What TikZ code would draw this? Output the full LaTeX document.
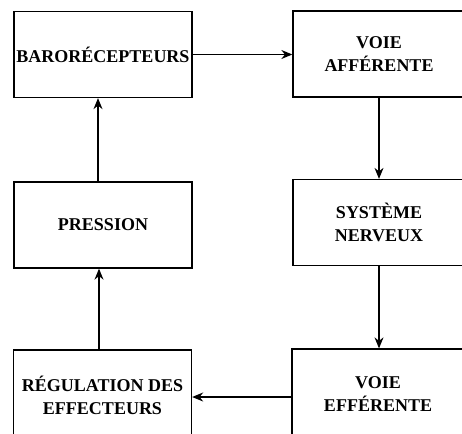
\documentclass[tikz,border=0pt]{standalone}
\usepackage{fontspec}
\setmainfont{Liberation Serif}
\usetikzlibrary{arrows.meta}
\tikzset{
  bloc/.style={draw, line width=1.3pt, minimum width=178pt, minimum height=86pt,
    align=center, inner sep=0pt, font=\bfseries\fontsize{18}{23}\selectfont},
  fleche/.style={line width=1.3pt, -{Stealth[length=11pt,width=9pt]}}
}
\begin{document}
\begin{tikzpicture}[x=1pt,y=-1pt]
% Cadre
\clip (0,0) rectangle (462,433);
\fill[white] (0,0) rectangle (462,433);

% Boites
\node[bloc] (baro) at (103,54.5) {BAROR\'ECEPTEURS};
\node[bloc, minimum width=172pt] (vaff) at (379,54) {VOIE\\AFF\'ERENTE};
\node[bloc, minimum width=172pt] (snc) at (379,222.5) {SYST\`EME\\NERVEUX};
\node[bloc] (pres) at (103,225) {PRESSION};
\node[bloc, minimum width=172pt, minimum height=90pt] (veff) at (378,394) {VOIE\\EFF\'ERENTE};
\node[bloc, minimum height=90pt] (regul) at (102.5,395) {R\'EGULATION DES\\EFFECTEURS};

% Fleches
\draw[fleche] (baro.east) -- (vaff.west |- baro.east);
\draw[fleche] (vaff.south) -- (snc.north);
\draw[fleche] (snc.south) -- (snc.south |- veff.north);
\draw[fleche] (veff.west |- 0,397) -- (regul.east |- 0,397);
\draw[fleche] (regul.north -| 99,0) -- (pres.south -| 99,0);
\draw[fleche] (pres.north -| 98,0) -- (baro.south -| 98,0);
\end{tikzpicture}
\end{document}
